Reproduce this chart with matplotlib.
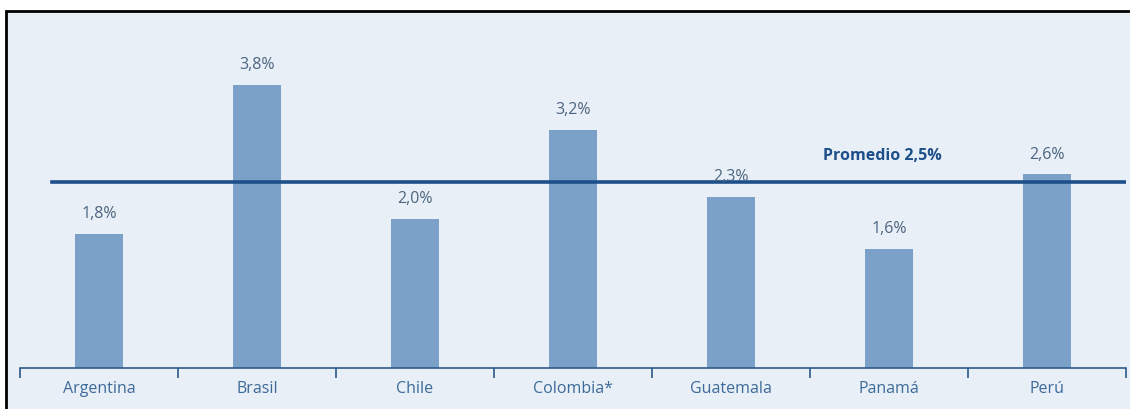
import matplotlib as mpl
mpl.use('agg')
import matplotlib.pyplot as plt
from matplotlib.patches import Rectangle
import numpy as np

paises = ["Argentina", "Brasil", "Chile", "Colombia*", "Guatemala", "Panamá", "Perú"]
valores = [1.8, 3.8, 2.0, 3.2, 2.3, 1.6, 2.6]
etiquetas = ["1,8%", "3,8%", "2,0%", "3,2%", "2,3%", "1,6%", "2,6%"]
promedio = 2.5
promedio_txt = "Promedio 2,5%"

plt.rcParams['font.family'] = ['Open Sans', 'DejaVu Sans']

bg = '#e8eff6'
fig = plt.figure(figsize=(11.3, 4.1), dpi=100)
fig.patch.set_facecolor('white')
# marco exterior
marco = Rectangle((6/1130, -0.01), 1.2, (410-12)/410 + 0.01, transform=fig.transFigure,
                  facecolor=bg, edgecolor='black', linewidth=2, zorder=-10)
fig.patches.append(marco)

ax = fig.add_axes([20/1130, 41/410, 1106/1130, 357/410])
ax.set_facecolor('none')
x = np.arange(len(paises))
ax.bar(x, valores, width=0.31, color='#7ca1c8', zorder=2)
ax.axhline(promedio, xmin=0.029, xmax=1.0, color='#1d4f8a', linewidth=2.6, zorder=3)
for xi, v, t in zip(x, valores, etiquetas):
    ax.text(xi, v + 0.17, t, ha='center', va='bottom', fontsize=11.5, color='#4d6580')
ax.text(4.96, promedio + 0.25, promedio_txt, ha='center', va='bottom', fontsize=11.5,
        fontweight='bold', color='#1d4f8a')

ax.set_xlim(-0.5, 6.5)
ax.set_ylim(0, 4.79)
for s in ['top', 'right', 'left']:
    ax.spines[s].set_visible(False)
ax.spines['bottom'].set_color('#2f5a88')
ax.spines['bottom'].set_linewidth(1.2)
ax.set_yticks([])
ax.set_xticks(np.arange(-0.5, 7.0, 1.0))
ax.set_xticklabels([])
ax.set_xticks(x, minor=True)
ax.set_xticklabels(paises, minor=True)
ax.tick_params(axis='x', which='major', direction='out', length=7, width=1.2, color='#2f5a88')
ax.tick_params(axis='x', which='minor', length=0, pad=9, labelsize=11.5, labelcolor='#3d6a99')

fig.savefig("out.png", dpi=100)
